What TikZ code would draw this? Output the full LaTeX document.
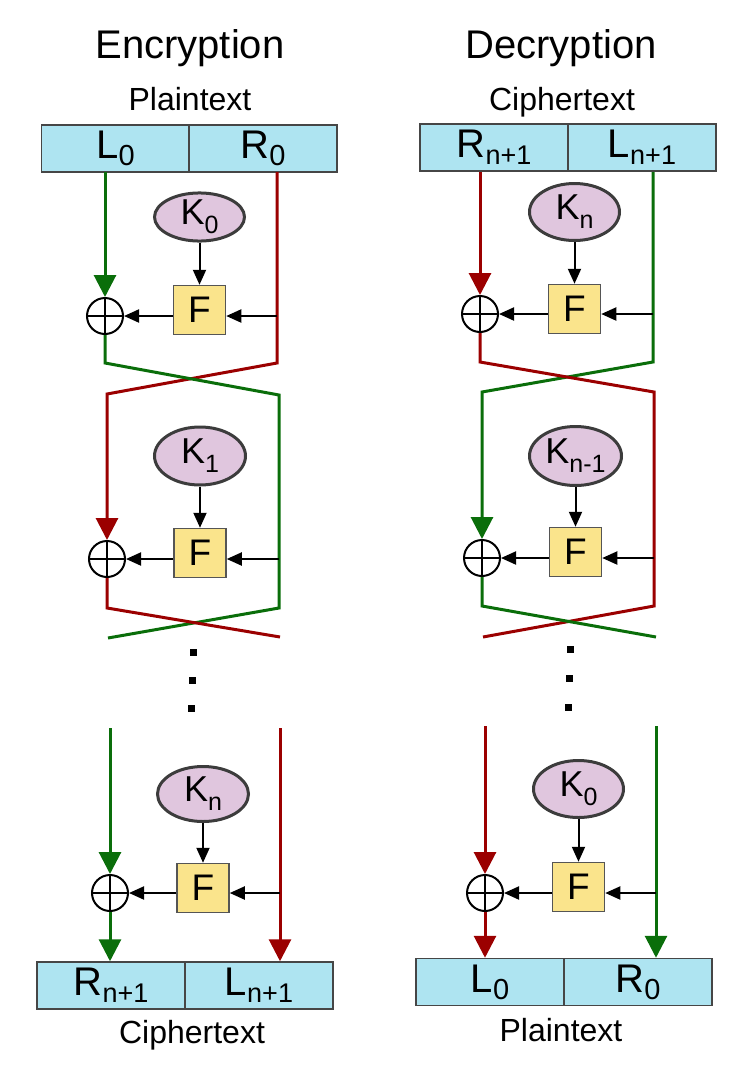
\documentclass[tikz,border=0pt]{standalone}
\usepackage{fontspec}
\setmainfont{Liberation Sans}
\usetikzlibrary{arrows.meta,shapes.geometric}
\definecolor{grn}{RGB}{10,110,10}
\definecolor{rd}{RGB}{155,0,0}
\definecolor{blueF}{RGB}{174,228,241}
\definecolor{purpF}{RGB}{224,198,222}
\definecolor{yelF}{RGB}{250,228,140}
\definecolor{boxline}{RGB}{70,70,70}
\definecolor{keyline}{RGB}{60,60,60}
\definecolor{fline}{RGB}{85,85,85}
\newcommand\subx[3]{\raisebox{-#3}{\fontsize{#2}{#2}\selectfont #1}}
\begin{document}
\begin{tikzpicture}[x=1pt,y=-1pt,
 half/.style={draw=boxline, line width=1.5pt, fill=blueF, minimum width=148pt, minimum height=47pt, inner sep=0pt, font=\fontsize{40}{40}\selectfont},
 key/.style={ellipse, draw=keyline, line width=3pt, fill=purpF, inner sep=0pt, font=\fontsize{36}{36}\selectfont},
 fbox/.style={draw=fline, line width=1.5pt, fill=yelF, minimum width=52pt, minimum height=49pt, inner sep=0pt, font=\fontsize{37}{37}\selectfont},
 xor/.style={circle, draw, line width=2pt, minimum size=36pt, inner sep=0pt, path picture={\draw[line width=2pt] (path picture bounding box.north) -- (path picture bounding box.south) (path picture bounding box.west) -- (path picture bounding box.east);}},
 gline/.style={draw=grn, line width=3pt},
 rline/.style={draw=rd, line width=3pt},
 big/.style={-{Triangle[width=22pt,length=22pt]}},
 blk/.style={draw=black, line width=2pt, -{Triangle[width=13pt,length=15pt]}},
 titletxt/.style={anchor=base, font=\fontsize{40}{40}\selectfont},
 captxt/.style={anchor=base, font=\fontsize{32}{32}\selectfont},
 dotbox/.style={fill=black, minimum size=7pt, inner sep=0pt}
]
\useasboundingbox (0,0) rectangle (750,1074);

% ================= Encryption =================
\node[titletxt] (etitle) at (190,58) {Encryption};
\node[captxt] (eplain) at (190,110) {Plaintext};
\node[half] (eL0) at (115.5,148.5) {L\subx{0}{29pt}{7pt}};
\node[half] (eR0) at (263,148.5) {R\subx{0}{29pt}{7pt}};

\node[key, minimum width=90pt, minimum height=47pt] (eK0) at (199.5,217) {K\subx{0}{25pt}{9pt}};
\node[fbox] (eF1) at (199.5,310) {F};
\node[xor] (eX1) at (105,316) {};

\node[key, minimum width=91pt, minimum height=58pt] (eK1) at (200,456) {K\subx{1}{25pt}{9pt}};
\node[fbox] (eF2) at (200,553) {F};
\node[xor] (eX2) at (107,559) {};

\node[dotbox] (ed1) at (193,652) {};
\node[dotbox] (ed2) at (192,680) {};
\node[dotbox] (ed3) at (191,708) {};

\node[key, minimum width=91pt, minimum height=55pt] (eKn) at (203,794) {K\subx{n}{25pt}{9pt}};
\node[fbox] (eF3) at (203,888) {F};
\node[xor] (eX3) at (110,893) {};

\node[half] (eRn) at (111,985.5) {R\subx{n+1}{27pt}{7pt}};
\node[half] (eLn) at (259,985.5) {L\subx{n+1}{27pt}{7pt}};
\node[captxt] (ecipher) at (192,1043) {Ciphertext};

\coordinate (eg0) at (105,172);
\coordinate (er0) at (277,172);
\coordinate (er1) at (277,316);
\coordinate (eg2) at (279,559);
\coordinate (eg3) at (110,728);
\coordinate (er3) at (280,728);
\coordinate (er3m) at (280,893);

% round 1
\draw[gline,big] (eg0) -- (eX1.north);
\draw[rline,big] (er0) -- (277,363) -- (107,394) -- (eX2.north);
\draw[blk] (er1) -- (eF1.east |- er1);
\draw[blk] (eF1.west |- eX1) -- (eX1.east);
\draw[blk] (eK0.south) -- (eF1.north);
\draw[gline] (eX1.south) -- (105,363) -- (279,395) -- (279,608) -- (108,638);
% round 2
\draw[blk] (eg2) -- (eF2.east |- eg2);
\draw[blk] (eF2.west |- eX2) -- (eX2.east);
\draw[blk] (eK1.south) -- (eF2.north);
\draw[rline] (eX2.south) -- (107,608) -- (280,637);
% round n
\draw[gline,big] (eg3) -- (eX3.north);
\draw[rline,big] (er3) -- (er3 |- eLn.north);
\draw[gline,big] (eX3.south) -- (eX3.south |- eRn.north);
\draw[blk] (er3m) -- (eF3.east |- er3m);
\draw[blk] (eF3.west |- eX3) -- (eX3.east);
\draw[blk] (eKn.south) -- (eF3.north);

% ================= Decryption =================
\node[titletxt] (dtitle) at (561,58) {Decryption};
\node[captxt] (dcipher) at (562,110) {Ciphertext};
\node[half] (dRn) at (494,147.5) {R\subx{n+1}{27pt}{7pt}};
\node[half] (dLn) at (642,147.5) {L\subx{n+1}{27pt}{7pt}};

\node[key, minimum width=90pt, minimum height=57pt] (dKn) at (574.5,212) {K\subx{n}{25pt}{9pt}};
\node[fbox] (dF1) at (574.5,309) {F};
\node[xor] (dX1) at (480,314) {};

\node[key, minimum width=92pt, minimum height=59pt] (dKm) at (575.5,456) {K\subx{n-1}{25pt}{9pt}};
\node[fbox] (dF2) at (575.5,552) {F};
\node[xor] (dX2) at (482,558) {};

\node[dotbox] (dd1) at (570,649) {};
\node[dotbox] (dd2) at (569,678) {};
\node[dotbox] (dd3) at (568,707) {};

\node[key, minimum width=90pt, minimum height=57pt] (dK0) at (578.5,789) {K\subx{0}{25pt}{9pt}};
\node[fbox] (dF3) at (578.5,887) {F};
\node[xor] (dX3) at (485,893) {};

\node[half] (dL0) at (490,982) {L\subx{0}{29pt}{7pt}};
\node[half] (dR0) at (638,982) {R\subx{0}{29pt}{7pt}};
\node[captxt] (dplain) at (561,1041) {Plaintext};

\coordinate (dr0) at (480,172);
\coordinate (dg0) at (653,172);
\coordinate (dg1) at (653,314);
\coordinate (dr2) at (654,558);
\coordinate (dr3) at (485,726);
\coordinate (dg3) at (656,726);
\coordinate (dg3m) at (656,893);

% round 1
\draw[rline,big] (dr0) -- (dX1.north);
\draw[gline,big] (dg0) -- (653,362) -- (482,392) -- (dX2.north);
\draw[blk] (dg1) -- (dF1.east |- dg1);
\draw[blk] (dF1.west |- dX1) -- (dX1.east);
\draw[blk] (dKn.south) -- (dF1.north);
\draw[rline] (dX1.south) -- (480,362) -- (654,392) -- (654,606) -- (483,637);
% round 2
\draw[blk] (dr2) -- (dF2.east |- dr2);
\draw[blk] (dF2.west |- dX2) -- (dX2.east);
\draw[blk] (dKm.south) -- (dF2.north);
\draw[gline] (dX2.south) -- (482,606) -- (656,637);
% round n
\draw[rline,big] (dr3) -- (dX3.north);
\draw[gline,big] (dg3) -- (dg3 |- dR0.north);
\draw[rline,big] (dX3.south) -- (dX3.south |- dL0.north);
\draw[blk] (dg3m) -- (dF3.east |- dg3m);
\draw[blk] (dF3.west |- dX3) -- (dX3.east);
\draw[blk] (dK0.south) -- (dF3.north);
\end{tikzpicture}
\end{document}
